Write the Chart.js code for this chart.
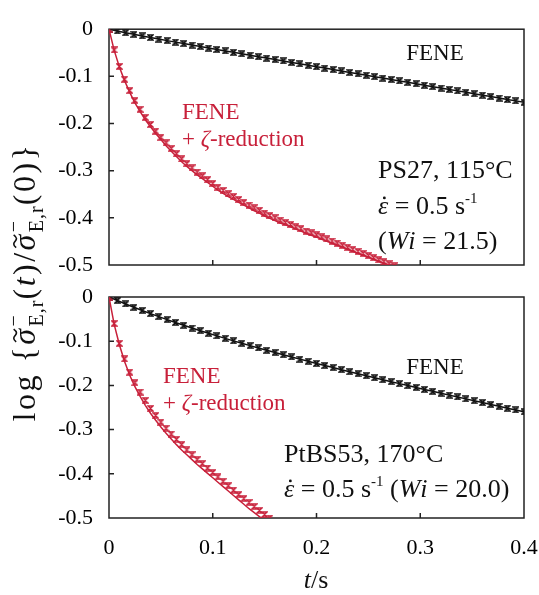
<!DOCTYPE html>
<html><head><meta charset="utf-8">
<script src="https://cdn.jsdelivr.net/npm/chart.js@4"></script>
<style>
html,body{margin:0;padding:0;background:#fff;}
#wrap{position:relative;width:539px;height:595px;overflow:hidden;}
canvas{position:absolute;left:0;top:0;}
</style></head><body>
<div id="wrap"><canvas id="c1" width="539" height="595"></canvas><canvas id="c2" width="539" height="595"></canvas></div>
<script>
// ---------- data ----------
const tBlack = [0,0.008,0.016,0.024,0.032,0.04,0.048,0.056,0.064,0.072,0.08,0.088,0.096,0.104,0.112,0.12,0.128,0.136,0.144,0.152,0.16,0.168,0.176,0.184,0.192,0.2,0.208,0.216,0.224,0.232,0.24,0.248,0.256,0.264,0.272,0.28,0.288,0.296,0.304,0.312,0.32,0.328,0.336,0.344,0.352,0.36,0.368,0.376,0.384,0.392,0.4];
const feneTop = [0,-0.0038,-0.0074,-0.0109,-0.0143,-0.0176,-0.0209,-0.0242,-0.0274,-0.0305,-0.0337,-0.0368,-0.0399,-0.0430,-0.0460,-0.0491,-0.0522,-0.0552,-0.0583,-0.0613,-0.0643,-0.0674,-0.0704,-0.0735,-0.0765,-0.0795,-0.0825,-0.0855,-0.0886,-0.0916,-0.0946,-0.0976,-0.1006,-0.1037,-0.1067,-0.1097,-0.1127,-0.1157,-0.1188,-0.1218,-0.1248,-0.1278,-0.1308,-0.1339,-0.1369,-0.1399,-0.1429,-0.1459,-0.1490,-0.1520,-0.1550];
const feneBottom = [0,-0.0080,-0.0157,-0.0232,-0.0305,-0.0376,-0.0444,-0.0511,-0.0576,-0.0640,-0.0702,-0.0762,-0.0821,-0.0879,-0.0936,-0.0992,-0.1047,-0.1100,-0.1153,-0.1205,-0.1257,-0.1307,-0.1357,-0.1406,-0.1455,-0.1503,-0.1550,-0.1597,-0.1644,-0.1690,-0.1736,-0.1781,-0.1827,-0.1871,-0.1916,-0.1960,-0.2004,-0.2047,-0.2091,-0.2134,-0.2177,-0.2220,-0.2262,-0.2305,-0.2347,-0.2389,-0.2431,-0.2473,-0.2515,-0.2556,-0.2598];
const tRed = [0,0.005,0.01,0.015,0.02,0.025,0.03,0.035,0.04,0.045,0.05,0.055,0.06,0.065,0.07,0.075,0.08,0.085,0.09,0.095,0.1,0.105,0.11,0.115,0.12,0.125,0.13,0.135,0.14,0.145,0.15,0.155,0.16,0.165,0.17,0.175,0.18,0.185,0.19,0.195,0.2,0.205,0.21,0.215,0.22,0.225,0.23,0.235,0.24,0.245,0.25,0.255,0.26,0.265,0.27,0.275];
const zetaTopLine = [0,-0.045,-0.080,-0.109,-0.134,-0.156,-0.175,-0.192,-0.207,-0.221,-0.234,-0.247,-0.259,-0.270,-0.281,-0.291,-0.300,-0.309,-0.317,-0.325,-0.333,-0.341,-0.348,-0.355,-0.361,-0.367,-0.373,-0.379,-0.385,-0.390,-0.396,-0.401,-0.406,-0.411,-0.415,-0.419,-0.424,-0.428,-0.433,-0.437,-0.441,-0.4453,-0.4495,-0.4538,-0.458,-0.4622,-0.4665,-0.4707,-0.475,-0.4792,-0.4834,-0.4877,-0.4919,-0.4962,-0.500,-0.504];
const zetaTopMarks = [0,-0.044,-0.079,-0.106,-0.130,-0.151,-0.170,-0.187,-0.202,-0.216,-0.229,-0.241,-0.253,-0.264,-0.275,-0.285,-0.294,-0.303,-0.311,-0.319,-0.327,-0.335,-0.342,-0.349,-0.355,-0.361,-0.367,-0.373,-0.379,-0.384,-0.390,-0.395,-0.400,-0.405,-0.410,-0.414,-0.419,-0.423,-0.428,-0.432,-0.436,-0.4404,-0.4448,-0.4492,-0.4536,-0.458,-0.4624,-0.4668,-0.4712,-0.4756,-0.480,-0.4844,-0.4888,-0.4932,-0.4976,-0.502];
const zetaBottomLine = [0,-0.062,-0.108,-0.146,-0.177,-0.203,-0.225,-0.245,-0.263,-0.279,-0.294,-0.308,-0.321,-0.334,-0.346,-0.357,-0.368,-0.379,-0.389,-0.399,-0.409,-0.419,-0.429,-0.439,-0.449,-0.459,-0.469,-0.479,-0.488,-0.497,-0.506];
const zetaBottomMarks = [0,-0.060,-0.105,-0.140,-0.170,-0.194,-0.215,-0.234,-0.252,-0.268,-0.283,-0.297,-0.310,-0.322,-0.334,-0.346,-0.357,-0.368,-0.377,-0.387,-0.397,-0.407,-0.417,-0.427,-0.437,-0.447,-0.456,-0.465,-0.474,-0.483,-0.492,-0.500];
const xTicks = [0,0.1,0.2,0.3,0.4];
const xTickLabels = ['0','0.1','0.2','0.3','0.4'];
const yTicks = [0,-0.1,-0.2,-0.3,-0.4,-0.5];
const yTickLabels = ['0','-0.1','-0.2','-0.3','-0.4','-0.5'];

// ---------- styling ----------
const RED = '#c8203a';
const BLACK = '#111111';
const SERIF = '"Liberation Serif","Times New Roman",serif';
const fnt = (s,it)=> (it?'italic ':'') + s + 'px ' + SERIF;

function marker(color){
  const c = document.createElement('canvas'); c.width = 7; c.height = 7;
  const x = c.getContext('2d');
  x.strokeStyle = color; x.lineWidth = 1.3;
  x.beginPath(); x.moveTo(1,1); x.lineTo(6,1); x.lineTo(1,6); x.lineTo(6,6); x.closePath(); x.stroke();
  return c;
}
const mkBlack = marker(BLACK), mkRed = marker(RED);

const pts = (ts, ys) => ys.map((y,i)=>({x:ts[i], y:y}));

function runAdvance(ctx, r, ls){
  ctx.font = fnt(r.size||24, r.it);
  if (!ls) return ctx.measureText(r.s).width;
  let w = 0; for (const ch of r.s) w += ctx.measureText(ch).width + ls; return w;
}
function drawRuns(ctx, x, y, runs, align, color, ls){
  ls = ls || 0;
  let w = 0;
  runs.forEach(r=>{ if(!r.noadv) w += runAdvance(ctx, r, r.ls!==undefined ? r.ls : ls); });
  let cx = align==='center' ? x - w/2 : x;
  ctx.fillStyle = color; ctx.strokeStyle = color; ctx.textBaseline = 'alphabetic'; ctx.textAlign = 'left';
  runs.forEach(r=>{
    const size = r.size||24, rls = r.ls!==undefined ? r.ls : ls;
    ctx.font = fnt(size, r.it);
    const yy = y + (r.dy||0);
    let px = cx;
    for (const ch of r.s){ ctx.fillText(ch, px, yy); px += ctx.measureText(ch).width + rls; }
    const gw = ctx.measureText(r.s).width;
    if (r.dot) {
      ctx.beginPath(); ctx.arc(cx + gw*0.62, yy - size*0.62, size*0.055, 0, Math.PI*2); ctx.fill();
    }
    if (r.tilde) {
      const cxm = cx + gw*0.58, ty = yy - size*0.62, hw = size*0.2;
      ctx.lineWidth = size*0.05; ctx.beginPath();
      ctx.moveTo(cxm-hw, ty+1);
      ctx.bezierCurveTo(cxm-hw*0.5, ty-3, cxm-hw*0.2, ty-1, cxm, ty);
      ctx.bezierCurveTo(cxm+hw*0.2, ty+1, cxm+hw*0.5, ty+3, cxm+hw, ty-1.5);
      ctx.stroke();
    }
    if(!r.noadv) cx = px;
  });
}

const framePlugin = {
  id:'frame',
  beforeDatasetsDraw(chart){
    const {ctx, chartArea:a, scales} = chart;
    ctx.save();
    ctx.strokeStyle = '#222'; ctx.lineWidth = 1.5;
    ctx.strokeRect(a.left, a.top, a.right-a.left, a.bottom-a.top);
    ctx.beginPath();
    xTicks.slice(1,-1).forEach(v=>{ const px = scales.x.getPixelForValue(v); ctx.moveTo(px, a.bottom); ctx.lineTo(px, a.bottom-5); });
    yTicks.slice(1,-1).forEach(v=>{ const py = scales.y.getPixelForValue(v); ctx.moveTo(a.left, py); ctx.lineTo(a.left+5, py); });
    ctx.stroke();
    ctx.restore();
  }
};

function yScale(){
  return {
    min:-0.5, max:0,
    afterFit(s){ s.width = 109; },
    afterBuildTicks(s){ s.ticks = yTicks.map(v=>({value:v})); },
    grid:{display:false, drawTicks:false},
    border:{display:false},
    ticks:{padding:16, color:'#000', font:{family:SERIF, size:22},
      callback:(v)=>{ const i = yTicks.findIndex(t=>Math.abs(t-v)<1e-9); return i>=0 ? yTickLabels[i] : ''; }}
  };
}

function commonOpts(padTop, padBottom, xh){
  return {
    responsive:false, animation:false,
    layout:{padding:{left:0, right:15, top:padTop, bottom:padBottom}},
    plugins:{legend:{display:false}, tooltip:{enabled:false}},
    scales:{
      x:{type:'linear', min:0, max:0.4, display:true,
        afterFit(s){ s.height = xh; },
        grid:{display:false, drawTicks:false}, border:{display:false},
        ticks:{display:false}},
      y:yScale()
    }
  };
}

function datasets(blackVals, lineVals, markVals){
  return [
    {data:pts(tRed, lineVals), showLine:true, borderColor:RED, borderWidth:1.5, pointRadius:0, tension:0},
    {data:pts(tRed, markVals), showLine:false, pointStyle:mkRed, pointRadius:3.5},
    {data:pts(tBlack, blackVals), showLine:true, borderColor:BLACK, borderWidth:1.5, pointStyle:mkBlack, pointRadius:3.5, tension:0}
  ];
}

const textTop = {
  id:'textTop',
  afterDraw(chart){
    const ctx = chart.ctx; ctx.save();
    drawRuns(ctx, 435, 60, [{s:'FENE', size:23}], 'center', BLACK);
    drawRuns(ctx, 182, 119, [{s:'FENE', size:23}], 'left', RED);
    drawRuns(ctx, 182, 146, [{s:'+ ', size:23},{s:'ζ', size:23, it:true},{s:'-reduction', size:23}], 'left', RED);
    drawRuns(ctx, 378, 178, [{s:'PS27, 115°C', size:26}], 'left', BLACK);
    drawRuns(ctx, 378, 214, [{s:'ε', size:26, it:true, dot:true},{s:' = 0.5 s', size:26},{s:'-1', size:15, dy:-11}], 'left', BLACK);
    drawRuns(ctx, 378, 249, [{s:'(', size:26},{s:'Wi', size:26, it:true},{s:' = 21.5)', size:26}], 'left', BLACK);
    // y axis title (rotated)
    ctx.translate(35, 282); ctx.rotate(-Math.PI/2);
    drawRuns(ctx, 0, 0, [
      {s:'log {', size:32},
      {s:'σ', size:32, it:true, tilde:true},
      {s:'−', size:20, dy:-15, noadv:true},
      {s:'E,r', size:20, dy:8, ls:1},
      {s:'(', size:32},{s:'t', size:32, it:true},{s:')/', size:32},
      {s:'σ', size:32, it:true, tilde:true},
      {s:'−', size:20, dy:-15, noadv:true},
      {s:'E,r', size:20, dy:8, ls:1},
      {s:'(0)}', size:32}
    ], 'center', BLACK, 2.5);
    ctx.restore();
  }
};

const textBottom = {
  id:'textBottom',
  afterDraw(chart){
    const ctx = chart.ctx; ctx.save();
    ctx.font = fnt(22); ctx.fillStyle = '#000'; ctx.textAlign = 'center'; ctx.textBaseline = 'middle';
    xTicks.forEach((v,i)=>{ ctx.fillText(xTickLabels[i], chart.scales.x.getPixelForValue(v), 548); });
    drawRuns(ctx, 435, 374, [{s:'FENE', size:23}], 'center', BLACK);
    drawRuns(ctx, 163, 383, [{s:'FENE', size:23}], 'left', RED);
    drawRuns(ctx, 163, 410, [{s:'+ ', size:23},{s:'ζ', size:23, it:true},{s:'-reduction', size:23}], 'left', RED);
    drawRuns(ctx, 284, 462, [{s:'PtBS53, 170°C', size:26}], 'left', BLACK);
    drawRuns(ctx, 284, 497, [{s:'ε', size:26, it:true, dot:true},{s:' = 0.5 s', size:26},{s:'-1', size:15, dy:-11},{s:' (', size:26},{s:'Wi', size:26, it:true},{s:' = 20.0)', size:26}], 'left', BLACK);
    drawRuns(ctx, 316, 588, [{s:'t', size:26, it:true},{s:'/s', size:26}], 'center', BLACK);
    ctx.restore();
  }
};

new Chart(document.getElementById('c1'), {
  type:'scatter',
  data:{datasets:datasets(feneTop, zetaTopLine, zetaTopMarks)},
  options:commonOpts(18, 330, 0),
  plugins:[framePlugin, textTop]
});
new Chart(document.getElementById('c2'), {
  type:'scatter',
  data:{datasets:datasets(feneBottom, zetaBottomLine, zetaBottomMarks)},
  options:commonOpts(297, 0, 77),
  plugins:[framePlugin, textBottom]
});
</script>
</body></html>
